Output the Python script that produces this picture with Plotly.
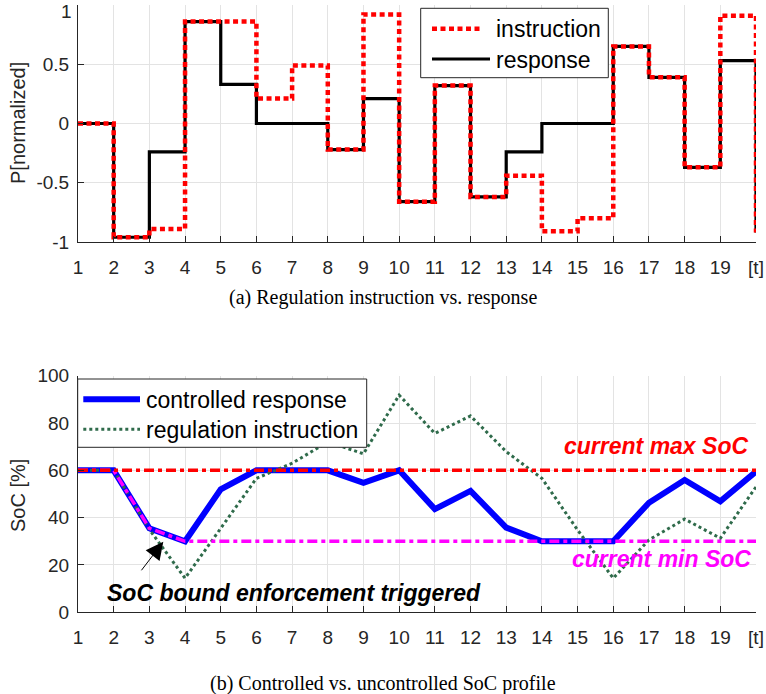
import plotly.graph_objects as go

# ---------------- data ----------------
t = list(range(1, 21))
tick_text = [str(i) for i in range(1, 20)] + ["[t]"]
p_ticks = [-1, -0.5, 0, 0.5, 1]
p_tick_text = ["-1", "-0.5", "0", "0.5", ""]   # top "1" placed as a text below
soc_ticks = [0, 20, 40, 60, 80, 100]

instruction = [0, -0.96, -0.89, 0.86, 0.86, 0.21, 0.49, -0.22, 0.92, -0.66,
               0.32, -0.62, -0.44, -0.91, -0.80, 0.65, 0.39, -0.37, 0.91, -0.92]
response = [0, -0.96, -0.24, 0.86, 0.33, 0, 0, -0.22, 0.21, -0.66,
            0.32, -0.62, -0.24, 0, 0, 0.65, 0.39, -0.37, 0.53, -0.92]

soc_controlled = [60, 60, 35.5, 30, 52, 60, 60, 60, 54.7, 60,
                  43.6, 51.3, 35.8, 30, 30, 30, 46.3, 55.9, 46.9, 59.5]
soc_instruction = [60, 60, 35, 14.4, 35.5, 56.6, 63, 72, 67, 91.8,
                   75.6, 83, 67.9, 56.6, 34.8, 14.4, 30.6, 39.4, 31.3, 53]
soc_max = [60] * 20
soc_min = [60, 60, 35.5, 30] + [30] * 16

W, H = 766, 694
FONT = "Liberation Sans, Arial, sans-serif"
SERIF = "Liberation Serif, Times New Roman, serif"
AX = "#262626"
GRID = "#e3e3e3"

RED_DOT = dict(color="#ff0000", width=4.5, dash="5px,3.5px")
BLACK = dict(color="black", width=3.2)
BLUE = dict(color="#0000ff", width=6)
GREEN_DOT = dict(color="#2f6b4b", width=3, dash="3px,3px")
DASHDOT = "10px,4px,4px,4px"


def px(x):
    return x / W


def py(y):
    return 1 - y / H


fig = go.Figure()

# top subplot
fig.add_trace(go.Scatter(x=t, y=response, mode="lines", line_shape="hv",
                         line=BLACK, name="response", xaxis="x", yaxis="y"))
fig.add_trace(go.Scatter(x=t, y=instruction, mode="lines", line_shape="hv",
                         line=RED_DOT, name="instruction", xaxis="x", yaxis="y"))

# bottom subplot
fig.add_trace(go.Scatter(x=t, y=soc_controlled, mode="lines", line=BLUE,
                         name="controlled response", xaxis="x2", yaxis="y2"))
fig.add_trace(go.Scatter(x=t, y=soc_instruction, mode="lines", line=GREEN_DOT,
                         name="regulation instruction", xaxis="x2", yaxis="y2"))
fig.add_trace(go.Scatter(x=t, y=soc_min, mode="lines",
                         line=dict(color="#ff00ff", width=3.5, dash=DASHDOT),
                         name="current min SoC", xaxis="x2", yaxis="y2"))
fig.add_trace(go.Scatter(x=t, y=soc_max, mode="lines",
                         line=dict(color="#ff0000", width=3.5, dash=DASHDOT),
                         name="current max SoC", xaxis="x2", yaxis="y2"))

xdom = [78 / W, 756 / W]
common_x = dict(range=[1, 20], tickvals=t, ticktext=tick_text, showgrid=True,
                gridcolor=GRID, gridwidth=1, zeroline=False, showline=True,
                linecolor=AX, linewidth=1, ticks="inside", ticklen=6,
                tickcolor=AX, tickfont=dict(family=FONT, size=19, color=AX),
                ticklabelstandoff=8, domain=xdom, automargin=False,
                ticklabeloverflow="allow")
common_y = dict(showgrid=True, gridcolor=GRID, gridwidth=1, zeroline=False,
                showline=True, linecolor=AX, linewidth=1, ticks="inside",
                ticklen=6, tickcolor=AX,
                tickfont=dict(family=FONT, size=19, color=AX),
                ticklabelstandoff=4, automargin=False,
                ticklabeloverflow="allow")

fig.update_layout(
    width=W, height=H,
    margin=dict(l=0, r=0, t=0, b=0, autoexpand=False),
    paper_bgcolor="white", plot_bgcolor="white",
    showlegend=False, hovermode=False,
    xaxis=dict(**common_x, anchor="y"),
    yaxis=dict(**common_y, range=[-1, 1], tickvals=p_ticks,
               ticktext=p_tick_text,
               domain=[1 - 242 / H, 1 - 5 / H], anchor="x"),
    xaxis2=dict(**common_x, anchor="y2"),
    yaxis2=dict(**common_y, range=[0, 100], tickvals=soc_ticks,
                domain=[1 - 612.3 / H, 1 - 375.7 / H], anchor="x2"),
)

# ---- hand-drawn legends (box + sample lines), in paper coordinates ----
shapes = [
    dict(type="rect", xref="paper", yref="paper", x0=px(420.7), x1=px(608.3),
         y0=py(77.7), y1=py(8.3), fillcolor="white",
         line=dict(color=AX, width=1), layer="above"),
    dict(type="line", xref="paper", yref="paper", x0=px(432), x1=px(483),
         y0=py(28.7), y1=py(28.7), line=RED_DOT, layer="above"),
    dict(type="line", xref="paper", yref="paper", x0=px(432), x1=px(490),
         y0=py(59), y1=py(59), line=BLACK, layer="above"),
    dict(type="rect", xref="paper", yref="paper", x0=px(77.7), x1=px(366.7),
         y0=py(447.3), y1=py(379), fillcolor="white",
         line=dict(color=AX, width=1), layer="above"),
    dict(type="line", xref="paper", yref="paper", x0=px(83.3), x1=px(140),
         y0=py(399.3), y1=py(399.3), line=BLUE, layer="above"),
    dict(type="line", xref="paper", yref="paper", x0=px(83.3), x1=px(140),
         y0=py(429.3), y1=py(429.3), line=GREEN_DOT, layer="above"),
]
fig.update_layout(shapes=shapes)

leg_font = dict(family=FONT, size=23, color="black")
annotations = [
    dict(text="1", x=px(73), y=1, xref="paper", yref="paper",
         showarrow=False, xanchor="right", yanchor="top", borderpad=0,
         font=dict(family=FONT, size=19, color=AX)),
    dict(text="instruction", x=px(494), y=py(29), xref="paper", yref="paper",
         showarrow=False, xanchor="left", yanchor="middle", font=leg_font),
    dict(text="response", x=px(494), y=py(60), xref="paper", yref="paper",
         showarrow=False, xanchor="left", yanchor="middle", font=leg_font),
    dict(text="controlled response", x=px(143.5), y=py(400), xref="paper",
         yref="paper", showarrow=False, xanchor="left", yanchor="middle",
         font=leg_font),
    dict(text="regulation instruction", x=px(143.5), y=py(430), xref="paper",
         yref="paper", showarrow=False, xanchor="left", yanchor="middle",
         font=leg_font),
    dict(text="P[normalized]", x=px(18), y=py(123), xref="paper", yref="paper",
         textangle=-90, showarrow=False, xanchor="center", yanchor="middle",
         font=dict(family=FONT, size=20, color=AX)),
    dict(text="SoC [%]", x=px(18), y=py(496), xref="paper", yref="paper",
         textangle=-90, showarrow=False, xanchor="center", yanchor="middle",
         font=dict(family=FONT, size=20, color=AX)),
    dict(text="(a) Regulation instruction vs. response", x=px(383), y=py(297),
         xref="paper", yref="paper", showarrow=False, xanchor="center",
         yanchor="middle", font=dict(family=SERIF, size=20, color="black")),
    dict(text="(b) Controlled vs. uncontrolled SoC profile", x=px(383),
         y=py(683), xref="paper", yref="paper", showarrow=False,
         xanchor="center", yanchor="middle",
         font=dict(family=SERIF, size=20, color="black")),
    dict(text="<b><i>current max SoC</i></b>", x=19.83, y=70.3, xref="x2",
         yref="y2", showarrow=False, xanchor="right", yanchor="middle",
         font=dict(family=FONT, size=23, color="#ff0000")),
    dict(text="<b><i>current min SoC</i></b>", x=19.92, y=22.5, xref="x2",
         yref="y2", showarrow=False, xanchor="right", yanchor="middle",
         font=dict(family=FONT, size=23, color="#ff00ff")),
    dict(text="<b><i>SoC bound enforcement triggered</i></b>", x=1.76, y=8.2,
         xref="x2", yref="y2", showarrow=False, xanchor="left",
         yanchor="middle", font=dict(family=FONT, size=23, color="black")),
    dict(text="", x=3.39, y=29.8, xref="x2", yref="y2", showarrow=True,
         ax=-23, ay=30, arrowhead=2, arrowsize=3.5, arrowwidth=1,
         arrowcolor="black"),
]
fig.update_layout(annotations=annotations)

fig.write_html("out.html")
